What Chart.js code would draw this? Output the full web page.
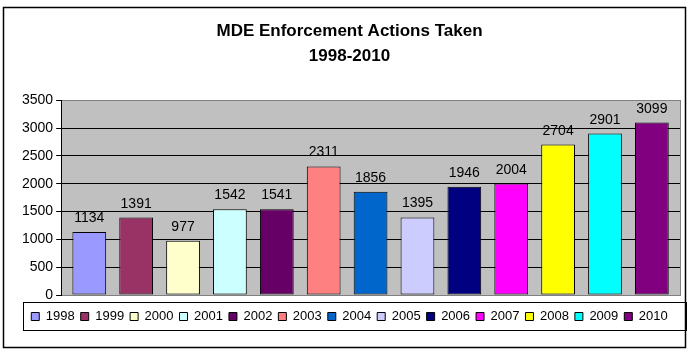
<!DOCTYPE html>
<html>
<head>
<meta charset="utf-8">
<script src="https://cdn.jsdelivr.net/npm/chart.js@4/dist/chart.umd.min.js"></script>
<style>
  html, body { margin: 0; padding: 0; background: #ffffff; }
  #wrap { width: 694px; height: 353px; }
</style>
</head>
<body>
<div id="wrap"><canvas id="c" width="694" height="353"></canvas></div>
<script>
const years = ['1998','1999','2000','2001','2002','2003','2004','2005','2006','2007','2008','2009','2010'];
const actions = [1134, 1391, 977, 1542, 1541, 2311, 1856, 1395, 1946, 2004, 2704, 2901, 3099];
const barColors = ['#9999FF','#993366','#FFFFCC','#CCFFFF','#660066','#FF8080','#0066CC','#CCCCFF','#000080','#FF00FF','#FFFF00','#00FFFF','#800080'];
const titleLines = ['MDE Enforcement Actions Taken', '1998-2010'];
const yTicks = [0, 500, 1000, 1500, 2000, 2500, 3000, 3500];

const FONT = "Arial, 'Liberation Sans', sans-serif";

const decor = {
  id: 'decor',
  beforeDraw(chart) {
    const ctx = chart.ctx;
    const a = chart.chartArea;
    ctx.save();
    ctx.fillStyle = '#ffffff';
    ctx.fillRect(0, 0, chart.width, chart.height);
    ctx.fillStyle = '#C0C0C0';
    ctx.fillRect(a.left, a.top, a.right - a.left, a.bottom - a.top);
    ctx.restore();
  },
  afterDraw(chart) {
    const ctx = chart.ctx;
    const a = chart.chartArea;
    ctx.save();
    ctx.strokeStyle = '#808080';
    ctx.lineWidth = 1;
    ctx.strokeRect(Math.round(a.left) + 0.5, Math.round(a.top) + 0.5, Math.round(a.right - a.left), Math.round(a.bottom - a.top));
    ctx.strokeStyle = '#000000';
    ctx.beginPath();
    ctx.moveTo(Math.round(a.left) + 0.5, Math.round(a.top));
    ctx.lineTo(Math.round(a.left) + 0.5, Math.round(a.bottom) + 1);
    ctx.stroke();
    const meta = chart.getDatasetMeta(0);
    ctx.fillStyle = '#000000';
    ctx.font = '14px ' + FONT;
    ctx.textAlign = 'center';
    ctx.textBaseline = 'alphabetic';
    meta.data.forEach((bar, i) => {
      ctx.fillText(String(chart.data.datasets[0].data[i]), bar.x, bar.y - 10);
    });
    const lg = chart.legend;
    if (lg && lg.legendHitBoxes && lg.legendHitBoxes.length) {
      const hb = lg.legendHitBoxes;
      const l = Math.round(hb[0].left) - 7.5;
      const r = chart.width - 7.5;
      const t = Math.round(hb[0].top) - 7.5;
      const b = Math.round(hb[0].top + hb[0].height) + 7.5;
      ctx.strokeStyle = '#000000';
      ctx.lineWidth = 1;
      ctx.strokeRect(l, t, r - l, b - t);
    }
    ctx.strokeStyle = '#000000';
    ctx.lineWidth = 1.5;
    ctx.strokeRect(3.5, 7.5, 682, 340);
    ctx.restore();
  }
};

new Chart(document.getElementById('c'), {
  type: 'bar',
  data: {
    labels: years,
    datasets: [{
      data: actions,
      backgroundColor: barColors,
      borderColor: '#000000',
      borderWidth: 1,
      borderSkipped: false,
      barPercentage: 0.72,
      categoryPercentage: 1.0
    }]
  },
  options: {
    responsive: false,
    animation: false,
    devicePixelRatio: 1,
    layout: { padding: { left: 19, right: 14, top: 19, bottom: 20 } },
    plugins: {
      title: {
        display: true,
        text: titleLines,
        color: '#000000',
        font: { family: FONT, size: 17, weight: 'bold', lineHeight: 1.45 },
        padding: { top: 0, bottom: 32 }
      },
      legend: {
        display: true,
        position: 'bottom',
        labels: {
          color: '#000000',
          font: { family: FONT, size: 13 },
          boxWidth: 8,
          boxHeight: 8,
          padding: 6,
          generateLabels(chart) {
            return chart.data.labels.map((lab, i) => ({
              text: lab,
              fillStyle: barColors[i],
              strokeStyle: '#000000',
              lineWidth: 1,
              hidden: false,
              index: i
            }));
          }
        }
      },
      tooltip: { enabled: false }
    },
    scales: {
      x: {
        grid: { display: false, drawTicks: false },
        border: { display: true, color: '#000000' },
        ticks: { display: false },
        afterFit(scale) { scale.height = 9; },
        afterUpdate(scale) { scale._startValue = -0.6; scale._valueRange = 13.2; }
      },
      y: {
        min: 0,
        max: 3500,
        afterBuildTicks(scale) { scale.ticks = yTicks.map(v => ({ value: v })); },
        grid: { color: '#000000', tickLength: 5, tickColor: '#000000' },
        border: { display: true, color: '#000000' },
        ticks: { color: '#000000', font: { family: FONT, size: 14 }, padding: 3, callback: (v) => String(v) }
      }
    }
  },
  plugins: [decor]
});
</script>
</body>
</html>
